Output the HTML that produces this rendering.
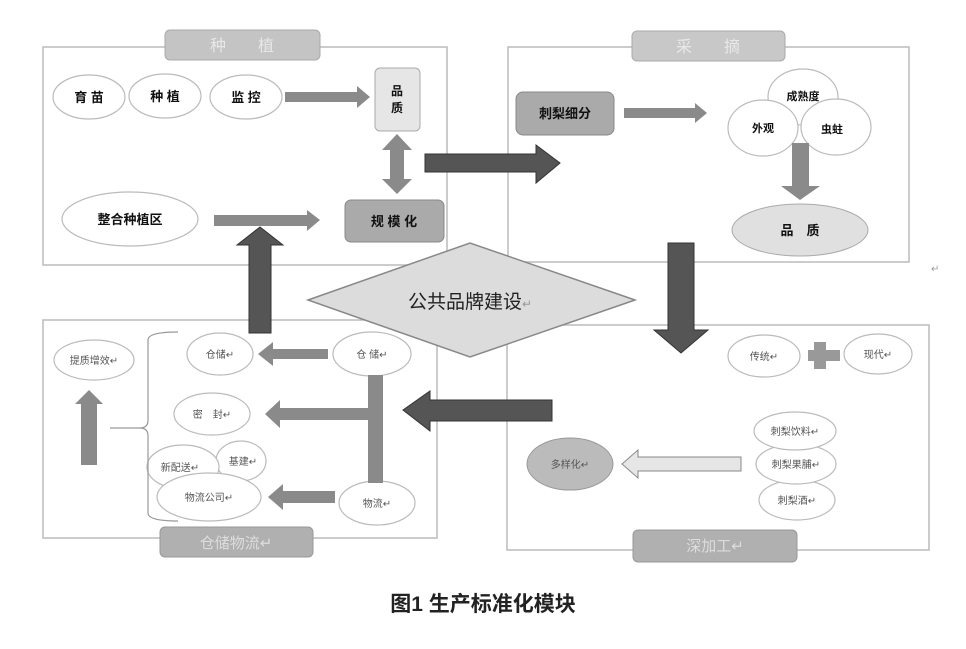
<!DOCTYPE html>
<html><head><meta charset="utf-8"><style>
html,body{margin:0;padding:0;background:#fff;}
svg{display:block;}
text{font-family:"Liberation Sans","Noto Sans CJK SC",sans-serif;}
.b{font-weight:bold;fill:#111;}
.s{fill:#555;font-size:10px;}
</style></head><body>
<svg width="966" height="649" viewBox="0 0 966 649" xmlns="http://www.w3.org/2000/svg">
<g fill="none" stroke="#bbb" stroke-width="1.5">
<rect x="43" y="47" width="404" height="218"/>
<rect x="508" y="47" width="401" height="215"/>
<rect x="43" y="320" width="394" height="218"/>
<rect x="507" y="325" width="422" height="225"/>
</g>
<!-- tabs -->
<rect x="165" y="30" width="155" height="30" rx="5" fill="#c4c4c4" stroke="#aaa"/>
<text x="242" y="51" font-size="16" fill="#e8e8e8" text-anchor="middle" font-family="Liberation Serif,Noto Serif CJK SC,serif">种　　植</text>
<rect x="632" y="31" width="153" height="30" rx="5" fill="#c8c8c8" stroke="#aaa"/>
<text x="708" y="52" font-size="16" fill="#e8e8e8" text-anchor="middle">采　　摘</text>
<rect x="160" y="527" width="153" height="30" rx="5" fill="#b0b0b0" stroke="#999"/>
<text x="236" y="548" font-size="15" fill="#ddd" text-anchor="middle">仓储物流↵</text>
<rect x="633" y="530" width="164" height="32" rx="5" fill="#b0b0b0" stroke="#999"/>
<text x="715" y="551" font-size="15" fill="#ddd" text-anchor="middle">深加工↵</text>

<!-- top-left -->
<g fill="#fff" stroke="#bbb" stroke-width="1.2">
<ellipse cx="89" cy="97" rx="36" ry="22"/>
<ellipse cx="165" cy="96" rx="36" ry="22"/>
<ellipse cx="246" cy="97" rx="36" ry="22"/>
<ellipse cx="130" cy="219" rx="68" ry="27"/>
</g>
<text x="89" y="102" font-size="13" class="b" text-anchor="middle">育 苗</text>
<text x="165" y="101" font-size="13" class="b" text-anchor="middle">种 植</text>
<text x="246" y="102" font-size="13" class="b" text-anchor="middle">监 控</text>
<text x="130" y="224" font-size="13" class="b" text-anchor="middle">整合种植区</text>
<polygon points="285,92 357,92 357,86 370,97 357,108 357,102 285,102" fill="#8a8a8a"/>
<rect x="375" y="68" width="45" height="63" rx="5" fill="#e6e6e6" stroke="#aaa"/>
<text x="397" y="95" font-size="12" class="b" text-anchor="middle">品</text>
<text x="397" y="112" font-size="12" class="b" text-anchor="middle">质</text>
<polygon points="397,134 412,150 404,150 404,179 412,179 397,194 382,179 390,179 390,150 382,150" fill="#8a8a8a"/>
<rect x="345" y="200" width="99" height="42" rx="6" fill="#aaa" stroke="#888"/>
<text x="394" y="226" font-size="13" class="b" text-anchor="middle">规 模 化</text>
<polygon points="214,215 307,215 307,210 320,220 307,231 307,226 214,226" fill="#8a8a8a"/>
<polygon points="249,333 249,245 237,245 260,227 283,245 271,245 271,333" fill="#555" stroke="#333"/>

<!-- big right arrow -->
<polygon points="425,154 536,154 536,145 560,163 536,183 536,172 425,172" fill="#555" stroke="#333"/>

<!-- top-right -->
<rect x="516" y="92" width="98" height="43" rx="7" fill="#aaa" stroke="#888"/>
<text x="565" y="118" font-size="13" class="b" text-anchor="middle">刺梨细分</text>
<polygon points="624,108 695,108 695,103 707,113 695,123 695,118 624,118" fill="#8a8a8a"/>
<g fill="#fff" stroke="#bbb" stroke-width="1.2">
<ellipse cx="803" cy="97" rx="35" ry="28"/>
<ellipse cx="763" cy="128" rx="35" ry="28"/>
<ellipse cx="836" cy="127" rx="35" ry="28"/>
</g>
<text x="803" y="100" font-size="11" class="b" text-anchor="middle">成熟度</text>
<text x="763" y="132" font-size="11" class="b" text-anchor="middle">外观</text>
<text x="832" y="133" font-size="11" class="b" text-anchor="middle">虫蛀</text>
<polygon points="792,143 809,143 809,186 820,186 800,200 781,186 792,186" fill="#8a8a8a"/>
<ellipse cx="800" cy="230" rx="68" ry="26" fill="#e0e0e0" stroke="#aaa"/>
<text x="800" y="235" font-size="13" class="b" text-anchor="middle">品　质</text>
<text x="931" y="272" font-size="10" fill="#999">↵</text>

<!-- down arrow -->
<polygon points="668,243 694,243 694,330 708,330 681,353 654,330 668,330" fill="#555" stroke="#333"/>

<!-- diamond -->
<polygon points="308,300 470,243 635,300 470,357" fill="#dcdcdc" stroke="#888" stroke-width="1.5"/>
<text x="470" y="308" font-size="19" fill="#222" text-anchor="middle">公共品牌建设<tspan font-size="12" fill="#999">↵</tspan></text>

<!-- bottom-left -->
<g fill="#fff" stroke="#bbb" stroke-width="1.2">
<ellipse cx="94" cy="360" rx="40" ry="20"/>
<ellipse cx="220" cy="354" rx="33" ry="21"/>
<ellipse cx="372" cy="354" rx="39" ry="22"/>
<ellipse cx="212" cy="414" rx="38" ry="21"/>
<ellipse cx="241" cy="461" rx="25" ry="20"/>
<ellipse cx="183" cy="467" rx="36" ry="22"/>
<ellipse cx="209" cy="497" rx="52" ry="24"/>
<ellipse cx="377" cy="503" rx="38" ry="22"/>
</g>
<text x="94" y="364" class="s" text-anchor="middle">提质增效↵</text>
<text x="220" y="358" class="s" text-anchor="middle">仓储↵</text>
<text x="372" y="358" class="s" text-anchor="middle">仓 储↵</text>
<text x="212" y="418" class="s" text-anchor="middle">密　封↵</text>
<text x="243" y="465" class="s" text-anchor="middle">基建↵</text>
<text x="180" y="471" class="s" text-anchor="middle">新配送↵</text>
<text x="209" y="501" class="s" text-anchor="middle">物流公司↵</text>
<text x="377" y="507" class="s" text-anchor="middle">物流↵</text>
<polygon points="81,465 81,404 75,404 89,390 103,404 97,404 97,465" fill="#8a8a8a"/>
<path d="M178,332 Q148,332 148,340 L148,420 Q148,428 140,428 L110,428 M140,428 Q148,428 148,436 L148,513 Q148,521 178,521" fill="none" stroke="#999" stroke-width="1.2"/>
<polygon points="328,349 273,349 273,342 258,354 273,366 273,359 328,359" fill="#8a8a8a"/>
<rect x="368" y="375" width="15" height="108" fill="#8a8a8a"/>
<polygon points="368,408 280,408 280,400 265,414 280,428 280,420 368,420" fill="#8a8a8a"/>
<polygon points="335,491 283,491 283,484 268,497 283,510 283,503 335,503" fill="#8a8a8a"/>
<polygon points="552,400 430,400 430,391 403,410 430,431 430,421 552,421" fill="#555" stroke="#333"/>

<!-- bottom-right -->
<g fill="#fff" stroke="#bbb" stroke-width="1.2">
<ellipse cx="764" cy="356" rx="36" ry="21"/>
<ellipse cx="878" cy="354" rx="34" ry="20"/>
<ellipse cx="797" cy="500" rx="38" ry="20"/>
<ellipse cx="796" cy="464" rx="40" ry="20"/>
<ellipse cx="795" cy="431" rx="41" ry="19"/>
</g>
<polygon points="814,342 826,342 826,350 840,350 840,361 826,361 826,369 814,369 814,361 808,361 808,350 814,350" fill="#999"/>
<text x="764" y="360" class="s" text-anchor="middle">传统↵</text>
<text x="878" y="358" class="s" text-anchor="middle">现代↵</text>
<text x="795" y="435" class="s" text-anchor="middle">刺梨饮料↵</text>
<text x="796" y="468" class="s" text-anchor="middle">刺梨果脯↵</text>
<text x="797" y="504" class="s" text-anchor="middle">刺梨酒↵</text>
<ellipse cx="570" cy="464" rx="43" ry="26" fill="#bbb" stroke="#999"/>
<text x="570" y="468" class="s" text-anchor="middle">多样化↵</text>
<polygon points="741,457 638,457 638,450 622,464 638,478 638,471 741,471" fill="#e6e6e6" stroke="#888"/>

<text x="483" y="611" font-size="21" font-weight="bold" fill="#222" text-anchor="middle">图1  生产标准化模块</text>
</svg>
</body></html>
